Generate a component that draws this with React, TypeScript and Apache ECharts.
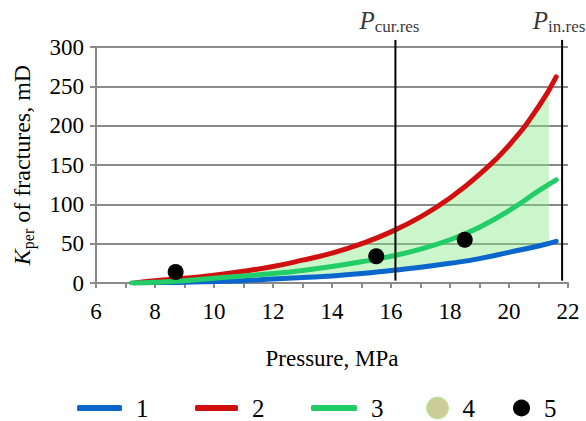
import React, { useEffect, useRef } from 'react';
import * as echarts from 'echarts';

const FONT = 'Liberation Serif, Times New Roman, serif';

// Curve 1 (blue)
const blueX = [7.5, 8, 9, 10, 11, 12, 13, 14, 15, 16, 17, 18, 19, 20, 21, 21.6];
const blueY = [0, 0.5, 1, 2, 3, 5, 7, 9, 12, 16, 20, 25, 31, 39, 47, 53];
// Curve 2 (red)
const redX = [7.3, 8, 9, 10, 11, 12, 13, 14, 15, 16, 17, 18, 19, 20, 21, 21.6];
const redY = [0, 3, 6, 10, 15, 21, 29, 38, 50, 65, 84, 108, 138, 175, 224, 262];
// Curve 3 (green)
const greenX = [7.2, 8, 9, 10, 11, 12, 13, 14, 15, 16, 17, 18, 19, 20, 21, 21.6];
const greenY = [0, 1, 3, 6, 9, 12, 16, 21, 27, 34, 43, 55, 71, 92, 117, 131];
// Area 4 (band)
const bandX = [7.2, 8, 9, 10, 11, 12, 13, 14, 15, 16, 17, 18, 19, 20, 21, 21.35];
const bandUpper = [0, 3, 6, 10, 15, 21, 29, 38, 50, 65, 84, 108, 138, 175, 224, 248];
const bandLower = [0, 0.3, 1, 2, 3, 5, 7, 9, 12, 16, 20, 25, 31, 39, 47, 50];
// Points 5
const dotX = [8.7, 15.5, 18.5];
const dotY = [14, 34, 55];
// Pressure markers
const markerX = [16.15, 21.8];
const markerSub = ['cur.res', 'in.res'];
const markerSpan = [3, 309];

const seriesNames = ['1', '2', '3', '4', '5'];

const zip = (xs: number[], ys: number[]) => xs.map((x, i) => [x, ys[i]]);

export default function App() {
  const ref = useRef<HTMLDivElement>(null);

  useEffect(() => {
    if (!ref.current) return;
    const chart = echarts.init(ref.current, null, { renderer: 'svg' });

    const baseText = { fontFamily: FONT, color: '#000' };
    const legendBase = {
      top: 395,
      padding: 0,
      itemGap: 0,
      selectedMode: false,
      textStyle: { ...baseText, fontSize: 25, lineHeight: 26, padding: [0, 0, 0, 9] },
    };

    const markerSeries = markerX.map((mx, i) => ({
      type: 'line',
      name: 'marker' + i,
      clip: false,
      z: 5,
      symbol: 'none',
      lineStyle: { color: '#000', width: 2 },
      data: markerSpan.map((y) => [mx, y]),
      silent: true,
    }));

    const markerLabelSeries = {
      type: 'scatter',
      name: 'markerLabels',
      clip: false,
      z: 6,
      symbolSize: 1,
      itemStyle: { color: 'rgba(0,0,0,0)' },
      data: markerX.map((mx, i) => ({
        value: [mx, markerSpan[1]],
        label: {
          show: true,
          position: 'top',
          distance: 4,
          offset: [i === 0 ? -6 : -3, 0],
          formatter: '{p|P}{s|' + markerSub[i] + '}',
          rich: {
            p: { fontFamily: FONT, fontStyle: 'italic', fontSize: 25, color: '#000', verticalAlign: 'bottom', padding: [0, 0, 2, 0] },
            s: { fontFamily: FONT, fontSize: 17, color: '#000', verticalAlign: 'bottom' },
          },
        },
      })),
    };

    const option = {
      animation: false,
      textStyle: { fontFamily: FONT },
      grid: { left: 96, right: 18, top: 47, bottom: 138, containLabel: false },
      legend: [
        { ...legendBase, left: 77, data: [{ name: '1', icon: 'roundRect' }], itemWidth: 45, itemHeight: 6 },
        { ...legendBase, left: 195, data: [{ name: '2', icon: 'roundRect' }], itemWidth: 43, itemHeight: 6 },
        { ...legendBase, left: 311, data: [{ name: '3', icon: 'roundRect' }], itemWidth: 46, itemHeight: 6 },
        {
          ...legendBase,
          left: 426,
          data: [{ name: '4', icon: 'circle', itemStyle: { color: '#cccc99', borderColor: '#b4f0a8', borderWidth: 1 } }],
          itemWidth: 22,
          itemHeight: 22,
        },
        { ...legendBase, left: 513, data: [{ name: '5', icon: 'circle' }], itemWidth: 17, itemHeight: 17 },
      ],
      xAxis: {
        type: 'value',
        min: 6,
        max: 22,
        interval: 1,
        name: 'Pressure, MPa',
        nameLocation: 'middle',
        nameGap: 64,
        nameTextStyle: { ...baseText, fontSize: 23 },
        axisLine: { show: true, lineStyle: { color: '#8a8a8a', width: 2 } },
        axisTick: { show: true, length: 5, lineStyle: { color: '#8a8a8a', width: 2 } },
        axisLabel: {
          ...baseText,
          fontSize: 23,
          margin: 17,
          formatter: (v: number) => (v % 2 === 0 ? String(v) : ''),
        },
        splitLine: { show: false },
      },
      yAxis: {
        type: 'value',
        min: 0,
        max: 300,
        interval: 50,
        name: '{k|K}{s|per}{t| of fractures, mD}',
        nameLocation: 'middle',
        nameRotate: 90,
        nameGap: 60,
        nameTextStyle: {
          ...baseText,
          fontSize: 24,
          rich: {
            k: { fontFamily: FONT, fontStyle: 'italic', fontSize: 24, color: '#000', verticalAlign: 'bottom', padding: [0, 0, 2, 0] },
            s: { fontFamily: FONT, fontSize: 16, color: '#000', verticalAlign: 'bottom' },
            t: { fontFamily: FONT, fontSize: 24, color: '#000', verticalAlign: 'bottom', padding: [0, 0, 2, 0] },
          },
        },
        axisLine: { show: true, lineStyle: { color: '#8a8a8a', width: 2 } },
        axisTick: { show: true, length: 6, lineStyle: { color: '#8a8a8a', width: 2 } },
        axisLabel: { ...baseText, fontSize: 23, margin: 12 },
        splitLine: { show: true, lineStyle: { color: '#8a8a8a', width: 2 } },
      },
      series: [
        {
          type: 'custom',
          name: seriesNames[3],
          z: 1,
          itemStyle: { color: '#cccc99' },
          data: [0],
          renderItem: (params: any, api: any) => {
            const pts: number[][] = [];
            for (let i = 0; i < bandX.length; i++) pts.push(api.coord([bandX[i], bandUpper[i]]));
            for (let i = bandX.length - 1; i >= 0; i--) pts.push(api.coord([bandX[i], bandLower[i]]));
            return {
              type: 'polygon',
              shape: { points: pts },
              style: { fill: 'rgba(130, 232, 130, 0.42)', stroke: 'none' },
            };
          },
        },
        {
          type: 'line',
          name: seriesNames[0],
          z: 2,
          smooth: true,
          symbol: 'none',
          itemStyle: { color: '#0a66cc' },
          lineStyle: { color: '#0a66cc', width: 5, cap: 'round' },
          data: zip(blueX, blueY),
        },
        {
          type: 'line',
          name: seriesNames[1],
          z: 2,
          smooth: true,
          symbol: 'none',
          itemStyle: { color: '#d01010' },
          lineStyle: { color: '#d01010', width: 5, cap: 'round' },
          data: zip(redX, redY),
        },
        {
          type: 'line',
          name: seriesNames[2],
          z: 2,
          smooth: true,
          symbol: 'none',
          itemStyle: { color: '#22cc66' },
          lineStyle: { color: '#22cc66', width: 5, cap: 'round' },
          data: zip(greenX, greenY),
        },
        {
          type: 'scatter',
          name: seriesNames[4],
          z: 3,
          symbol: 'circle',
          symbolSize: 16,
          itemStyle: { color: '#000', opacity: 1 },
          data: zip(dotX, dotY),
        },
        ...markerSeries,
        markerLabelSeries,
      ],
    };

    chart.setOption(option as any);
    return () => chart.dispose();
  }, []);

  return (
    <div
      ref={ref}
      style={{ position: 'fixed', left: 0, top: 0, width: 586, height: 421, background: '#fff' }}
    />
  );
}
